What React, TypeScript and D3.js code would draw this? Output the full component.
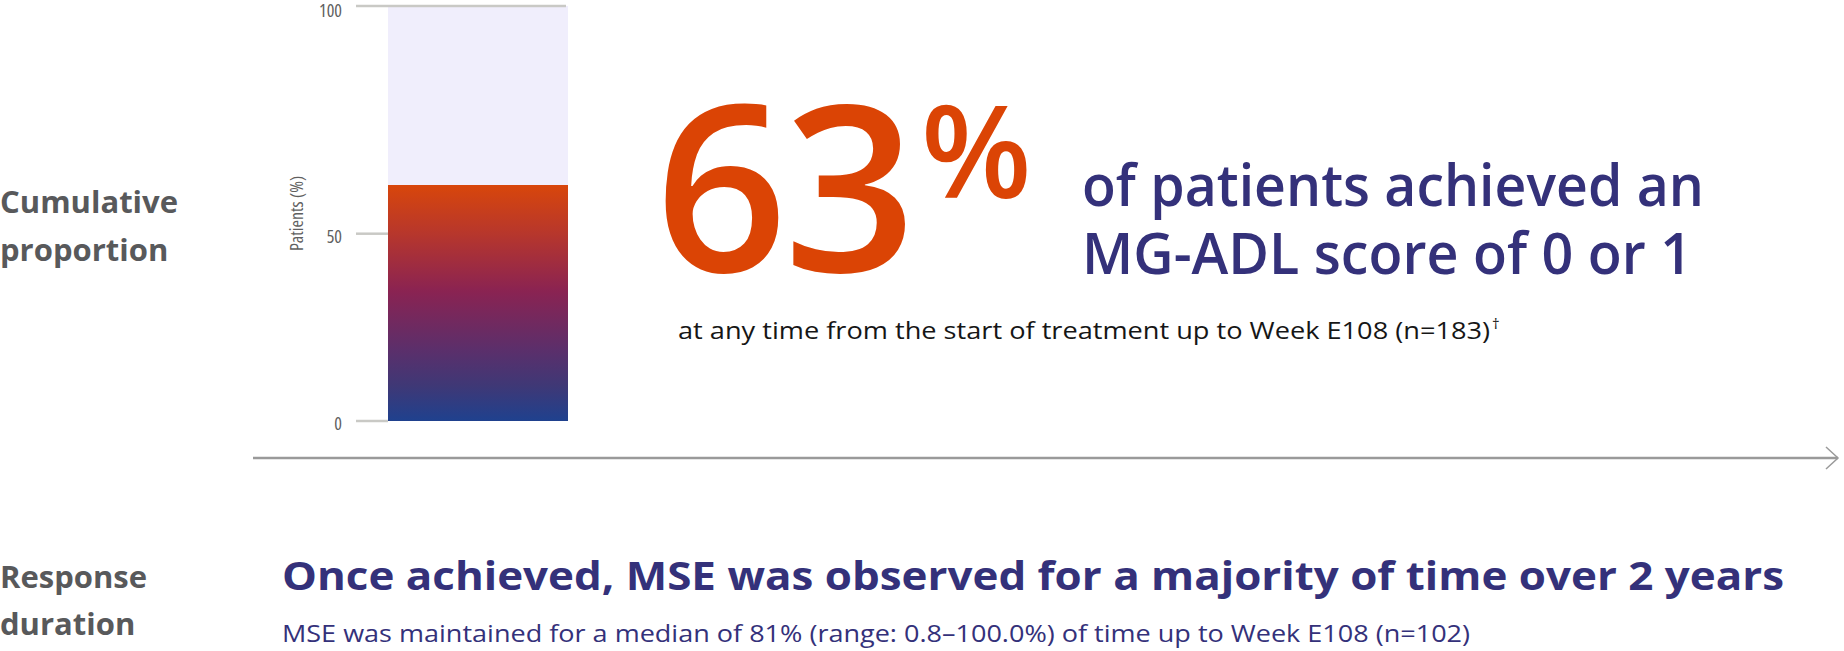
import * as React from "react";
import * as d3 from "d3";

// values
const barCategory = "Patients";
const barValue = 63;
const yTickValues = [0, 50, 100];
const yAxisTitle = "Patients (%)";
const rowLabels = [["Cumulative", "proportion"], ["Response", "duration"]];
const headlineLines = ["of patients achieved an", "MG-ADL score of 0 or 1"];
const headlineNote = "at any time from the start of treatment up to Week E108 (n=183)";
const durationTitle = "Once achieved, MSE was observed for a majority of time over 2 years";
const durationNote = "MSE was maintained for a median of 81% (range: 0.8\u2013100.0%) of time up to Week E108 (n=102)";

const WIDTH = 1844;
const HEIGHT = 651;
const FONT = "'Open Sans', 'Noto Sans', sans-serif";
const NAVY = "#34317a";
const ORANGE = "#db4405";
const GREY_LABEL = "#58595b";

const gradientStops = [
  { offset: 0, color: "#d8460b" },
  { offset: 0.2, color: "#b8372b" },
  { offset: 0.45, color: "#8a2352" },
  { offset: 0.7, color: "#5b2f6b" },
  { offset: 0.85, color: "#3f3876" },
  { offset: 1, color: "#1f418e" },
];

export default function App() {
  const svgRef = React.useRef<SVGSVGElement>(null);

  React.useEffect(() => {
    if (!svgRef.current) return;
    const svg = d3.select(svgRef.current);
    svg.selectAll("*").remove();

    // bar panel
    const plot = { left: 388, right: 568, top: 6, bottom: 421 };
    const x = d3.scaleBand().domain([barCategory]).range([plot.left, plot.right]).padding(0);
    // the printed axis is stretched: the lower part runs linear through the bar value
    const y = d3.scaleLinear().domain([0, barValue, 100]).range([plot.bottom, 185, plot.top]);

    const defs = svg.append("defs");
    const grad = defs.append("linearGradient")
      .attr("id", "barGrad")
      .attr("gradientUnits", "userSpaceOnUse")
      .attr("x1", 0).attr("x2", 0)
      .attr("y1", y(barValue)).attr("y2", y(0));
    grad.selectAll("stop")
      .data(gradientStops)
      .enter().append("stop")
      .attr("offset", d => d.offset)
      .attr("stop-color", d => d.color);

    // background track (100%)
    svg.append("rect")
      .attr("x", x(barCategory)!)
      .attr("y", y(100))
      .attr("width", x.bandwidth())
      .attr("height", y(0) - y(100))
      .attr("fill", "#f0eefc");

    svg.append("rect")
      .attr("x", x(barCategory)!)
      .attr("y", y(barValue))
      .attr("width", x.bandwidth())
      .attr("height", y(0) - y(barValue))
      .attr("fill", "url(#barGrad)");

    // y axis ticks
    const ticks = svg.append("g").selectAll("g")
      .data(yTickValues)
      .enter().append("g");
    ticks.append("line")
      .attr("x1", 356)
      .attr("x2", d => d === 100 ? plot.right - 2 : plot.left)
      .attr("y1", d => y(d))
      .attr("y2", d => y(d))
      .attr("stroke", "#c9c9c5")
      .attr("stroke-width", 2.5);
    ticks.append("text")
      .attr("x", 342)
      .attr("y", d => Math.max(y(d) + 9, 17))
      .attr("text-anchor", "end")
      .attr("font-family", FONT)
      .attr("font-stretch", "condensed")
      .attr("font-size", 18)
      .attr("fill", "#5f5f5f")
      .text(d => d);

    svg.append("text")
      .attr("transform", `translate(303, ${(plot.top + plot.bottom) / 2}) rotate(-90)`)
      .attr("text-anchor", "middle")
      .attr("font-family", FONT)
      .attr("font-stretch", "condensed")
      .attr("font-size", 18)
      .attr("fill", "#5f5f5f")
      .text(yAxisTitle);

    // time axis with arrow
    svg.append("line")
      .attr("x1", 253).attr("x2", 1838)
      .attr("y1", 458).attr("y2", 458)
      .attr("stroke", "#9a9a9a")
      .attr("stroke-width", 2.5);
    svg.append("path")
      .attr("d", "M1826,447 L1838,458 L1826,469")
      .attr("fill", "none")
      .attr("stroke", "#9a9a9a")
      .attr("stroke-width", 1.5);

    // row labels on the left
    const rowBaselines = [[213, 261], [588, 635]];
    rowLabels.forEach((lines, i) => {
      lines.forEach((t, j) => {
        svg.append("text")
          .attr("x", 0)
          .attr("y", rowBaselines[i][j])
          .attr("font-family", FONT)
          .attr("font-weight", 700)
          .attr("font-size", 31)
          .attr("fill", GREY_LABEL)
          .text(t);
      });
    });

    // big number
    svg.append("text")
      .attr("x", 655)
      .attr("y", 272)
      .attr("font-family", FONT)
      .attr("font-weight", 600)
      .attr("font-size", 232)
      .attr("letter-spacing", -4)
      .attr("fill", ORANGE)
      .text(barValue);
    svg.append("text")
      .attr("x", 921)
      .attr("y", 198)
      .attr("font-family", FONT)
      .attr("font-weight", 600)
      .attr("font-size", 128)
      .attr("fill", ORANGE)
      .text("%");

    headlineLines.forEach((t, i) => {
      svg.append("text")
        .attr("x", 1082)
        .attr("y", [206, 274][i])
        .attr("font-family", FONT)
        .attr("font-weight", 600)
        .attr("font-size", 57)
        .attr("fill", NAVY)
        .attr("textLength", [622, 610][i])
        .attr("lengthAdjust", "spacingAndGlyphs")
        .text(t);
    });

    const note = svg.append("text")
      .attr("x", 678)
      .attr("y", 339)
      .attr("font-family", FONT)
      .attr("font-size", 24)
      .attr("fill", "#161616");
    note.append("tspan")
      .attr("textLength", 812)
      .attr("lengthAdjust", "spacingAndGlyphs")
      .text(headlineNote);
    note.append("tspan").attr("dx", 2).attr("dy", -10).attr("font-size", 15).text("\u2020");

    svg.append("text")
      .attr("x", 282)
      .attr("y", 590)
      .attr("font-family", FONT)
      .attr("font-weight", 700)
      .attr("font-size", 39)
      .attr("fill", NAVY)
      .attr("textLength", 1502)
      .attr("lengthAdjust", "spacingAndGlyphs")
      .text(durationTitle);

    svg.append("text")
      .attr("x", 282)
      .attr("y", 642)
      .attr("font-family", FONT)
      .attr("font-size", 23)
      .attr("fill", NAVY)
      .attr("textLength", 1188)
      .attr("lengthAdjust", "spacingAndGlyphs")
      .text(durationNote);
  }, []);

  return (
    <svg
      ref={svgRef}
      width={WIDTH}
      height={HEIGHT}
      style={{ position: "absolute", left: 0, top: 0, background: "#ffffff" }}
    />
  );
}
